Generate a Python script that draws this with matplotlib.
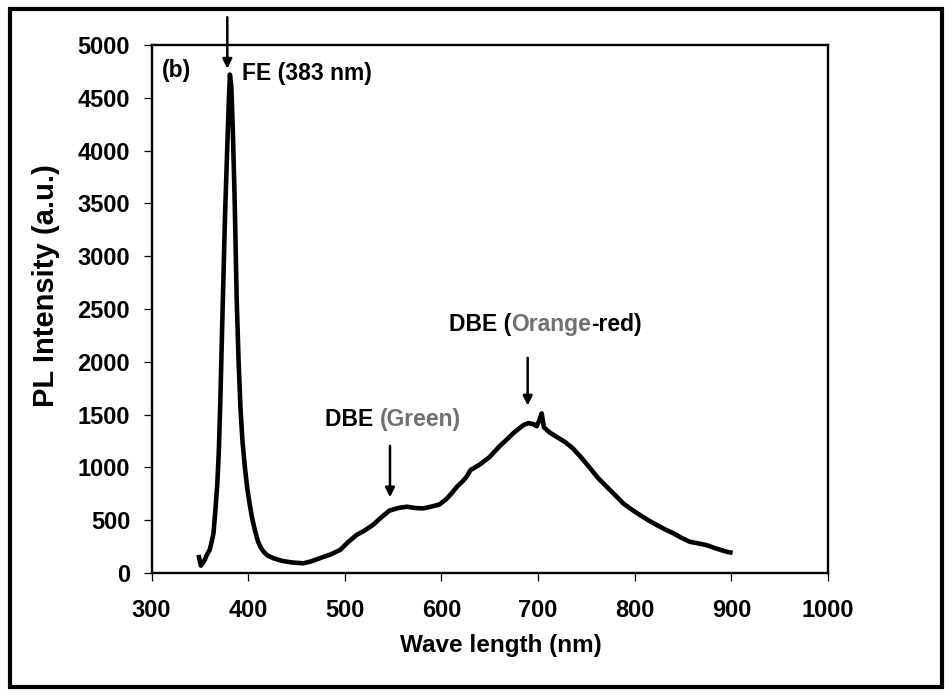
import matplotlib
matplotlib.use("Agg")
import matplotlib.pyplot as plt
from matplotlib.patches import Rectangle

plt.rcParams['font.family'] = ['Liberation Sans', 'DejaVu Sans']
plt.rcParams['font.weight'] = 'bold'

# ---- data ----
wavelength = [349, 351, 353, 355, 357, 360, 362, 364, 366, 368, 369.5, 371, 373.5,
              376, 378.5, 380, 381, 382.5, 384, 386, 388, 390, 392, 394, 396.5, 399,
              401.5, 404, 407, 410, 413, 416, 420, 426, 435, 445, 457, 465, 477, 485,
              495, 503, 512, 520, 529, 538, 546, 555, 564, 573, 581, 590, 598, 605,
              610, 616, 622, 626, 630, 640, 650, 660, 667, 675, 685, 690, 695, 698.5,
              701, 703.7, 706, 712, 719, 728, 736, 745, 754, 762, 771, 780, 788, 797,
              805.5, 814, 822.7, 831, 840, 848, 857, 866, 874, 885, 895, 899]
intensity = [150, 70, 95, 125, 170, 218, 290, 376, 600, 850, 1150, 1600, 2520,
             3400, 4100, 4500, 4720, 4600, 4200, 3500, 2600, 2000, 1550, 1250, 1000, 800,
             650, 520, 400, 300, 240, 200, 165, 140, 115, 100, 92, 110, 150, 175,
             218, 290, 360, 400, 455, 530, 590, 615, 628, 615, 612, 630, 650, 700,
             750, 817, 870, 912, 975, 1030, 1100, 1200, 1259, 1330, 1402, 1420, 1410, 1390,
             1440, 1512, 1380, 1330, 1291, 1240, 1180, 1090, 991, 900, 817, 735, 660, 600,
             549, 500, 455, 415, 376, 335, 296, 280, 265, 230, 202, 195]

x_ticks = [300, 400, 500, 600, 700, 800, 900, 1000]
y_ticks = [0, 500, 1000, 1500, 2000, 2500, 3000, 3500, 4000, 4500, 5000]

fig = plt.figure(figsize=(9.52, 6.96), dpi=100)
ax = fig.add_axes([0.1593, 0.1767, 0.7104, 0.7586])

ax.plot(wavelength, intensity, color='black', lw=3.3, solid_joinstyle='round')

ax.set_xlim(300, 1000)
ax.set_ylim(0, 5000)
ax.set_xticks(x_ticks)
ax.set_yticks(y_ticks)
ax.tick_params(axis='x', direction='out', length=5.5, width=0.9, pad=13, labelsize=17)
ax.tick_params(axis='y', direction='out', length=5.5, width=0.9, pad=10, labelsize=17)
for lab in ax.get_xticklabels() + ax.get_yticklabels():
    lab.set_fontweight('bold')
for sp in ax.spines.values():
    sp.set_linewidth(1.7)

ax.set_xlabel('Wave length (nm)', fontsize=17.5, fontweight='bold')
ax.xaxis.set_label_coords(0.5165, -0.115)
ax.set_ylabel('PL Intensity (a.u.)', fontsize=21, fontweight='bold')
ax.yaxis.set_label_coords(-0.135, 0.545)

# annotations
ax.text(310.4, 4763, '(b)', fontsize=16.5, fontweight='bold', va='center', ha='left')
ax.text(393.2, 4735, 'FE (383 nm)', fontsize=16.5, fontweight='bold', va='center', ha='left')
ax.annotate('', xy=(378.3, 4750), xytext=(378.3, 5290),
            arrowprops=dict(arrowstyle='-|>', color='black', lw=1.8, mutation_scale=14),
            annotation_clip=False)

gray = '#707070'
t1 = ax.text(479.4, 1458, 'DBE ', fontsize=16.5, fontweight='bold', va='center', ha='left')
ax.annotate('(Green)', xy=(1, 0), xycoords=t1, va='bottom', ha='left',
            fontsize=16.5, fontweight='bold', color=gray)
ax.annotate('', xy=(546.7, 691), xytext=(546.7, 1231),
            arrowprops=dict(arrowstyle='-|>', color='black', lw=1.8, mutation_scale=14))

t2 = ax.text(608.0, 2358, 'DBE (', fontsize=16.5, fontweight='bold', va='center', ha='left')
t3 = ax.annotate('Orange', xy=(1, 0), xycoords=t2, va='bottom', ha='left',
                 fontsize=16.5, fontweight='bold', color=gray)
ax.annotate('-red)', xy=(1, 0), xycoords=t3, va='bottom', ha='left',
            fontsize=16.5, fontweight='bold', color='black')
ax.annotate('', xy=(689.2, 1560), xytext=(689.2, 2064),
            arrowprops=dict(arrowstyle='-|>', color='black', lw=1.8, mutation_scale=14))

# outer frame
fig.patches.append(Rectangle((10/952, 9/696), 932/952, 678/696, transform=fig.transFigure,
                             fill=False, edgecolor='black', lw=3.0))

fig.savefig('out.png', dpi=100)
